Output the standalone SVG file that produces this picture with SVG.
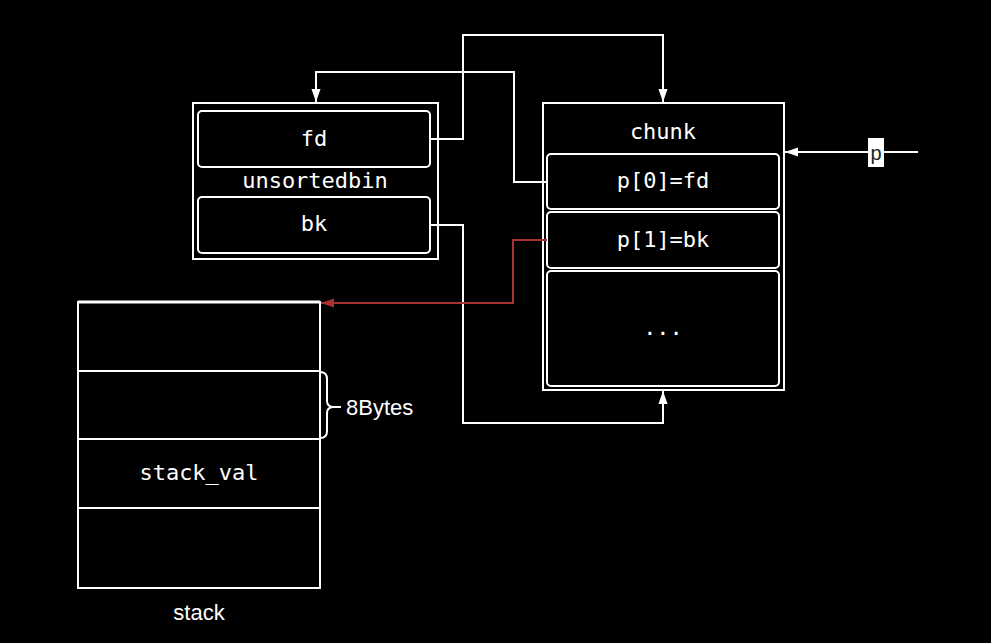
<svg xmlns="http://www.w3.org/2000/svg" width="991" height="643" viewBox="0 0 991 643">
<defs>
<style>
.box{fill:#000;stroke:#fff;stroke-width:2}
.in{fill:#000;stroke:#fff;stroke-width:2}
.mono{font-family:"DejaVu Sans Mono","Liberation Mono",monospace;font-size:22px;fill:#fff;text-anchor:middle}
.sans{font-family:"Liberation Sans","DejaVu Sans",sans-serif;font-size:22px;fill:#fff}
.w{fill:none;stroke:#fff;stroke-width:2}
.r{fill:none;stroke:#a83232;stroke-width:2}
</style>
<marker id="aw" viewBox="0 0 10 10" refX="10" refY="5" markerWidth="6.5" markerHeight="6.5" orient="auto" markerUnits="strokeWidth"><path d="M0,1.5 L10,5 L0,8.5 Z" fill="#fff"/></marker>
<marker id="ar" viewBox="0 0 10 10" refX="10" refY="5" markerWidth="6.5" markerHeight="6.5" orient="auto" markerUnits="strokeWidth"><path d="M0,1.5 L10,5 L0,8.5 Z" fill="#a83232"/></marker>
</defs>
<rect width="991" height="643" fill="#000"/>
<g id="unsortedbin">
<rect class="box" x="193" y="103" width="245" height="156"/>
<rect class="in" x="198" y="111" width="232" height="56" rx="4"/>
<text class="mono" x="314" y="146">fd</text>
<text class="mono" x="315" y="188">unsortedbin</text>
<rect class="in" x="198" y="197" width="232" height="56" rx="4"/>
<text class="mono" x="314" y="231">bk</text>
</g>
<g id="chunk">
<rect class="box" x="543" y="103" width="241" height="287"/>
<text class="mono" x="663" y="139">chunk</text>
<rect class="in" x="547" y="154" width="232" height="55" rx="4"/>
<text class="mono" x="663" y="188">p[0]=fd</text>
<rect class="in" x="547" y="212" width="232" height="56" rx="4"/>
<text class="mono" x="663" y="247">p[1]=bk</text>
<rect class="in" x="547" y="271" width="232" height="115" rx="4"/>
<text class="mono" x="663" y="335">...</text>
</g>
<g id="stack">
<rect class="box" x="78" y="302" width="242" height="286"/>
<line x1="78" y1="302" x2="320" y2="302" stroke="#fff" stroke-width="3"/>
<line x1="78" y1="371" x2="320" y2="371" stroke="#fff" stroke-width="2"/>
<line x1="78" y1="439" x2="320" y2="439" stroke="#fff" stroke-width="2"/>
<line x1="78" y1="508" x2="320" y2="508" stroke="#fff" stroke-width="2"/>
<text class="mono" x="199" y="480">stack_val</text>
<text class="sans" x="199" y="620" text-anchor="middle">stack</text>
</g>
<g id="brace">
<path class="w" d="M320,372 Q327,372 327,379 L327,401 Q327,407 334,407 L341,407 M334,407 Q327,407 327,413 L327,431 Q327,438 320,438"/>
<text class="sans" x="346" y="415">8Bytes</text>
</g>
<g id="connectors">
<path class="w" d="M430,139 L463,139 L463,35 L663,35 L663,102" marker-end="url(#aw)"/>
<path class="w" d="M547,182 L514,182 L514,72 L316,72 L316,102" marker-end="url(#aw)"/>
<path class="w" d="M430,225 L463,225 L463,423 L663,423 L663,391" marker-end="url(#aw)"/>
<path class="r" d="M547,240 L513,240 L513,303 L321,303" marker-end="url(#ar)"/>
<path class="w" d="M918,152 L785,152" marker-end="url(#aw)"/>
<rect x="868" y="138" width="16" height="29" fill="#fff"/>
<text x="876" y="160" font-family="Liberation Sans,DejaVu Sans,sans-serif" font-size="20" fill="#222" text-anchor="middle">p</text>
</g>
</svg>
